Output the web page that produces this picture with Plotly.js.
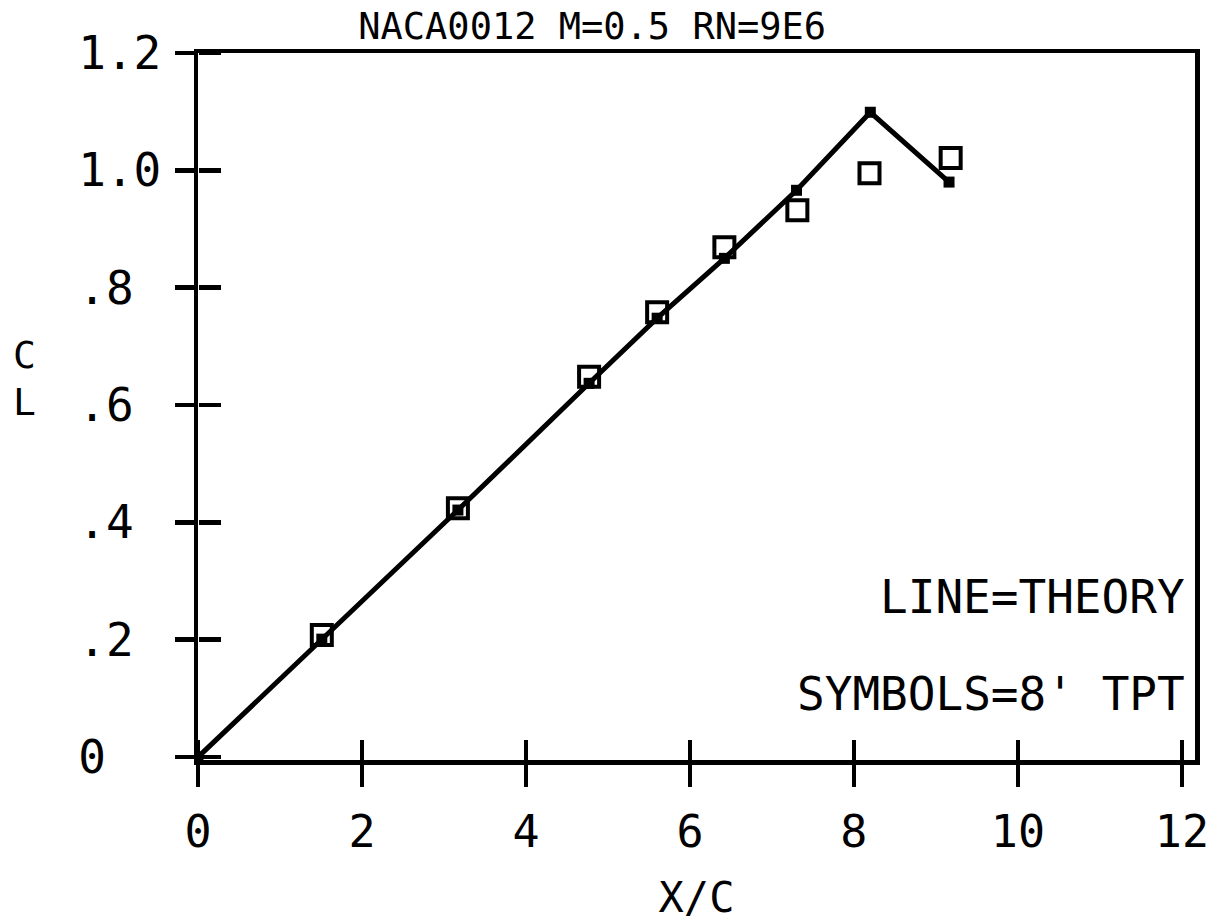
<!DOCTYPE html>
<html>
<head>
<meta charset="utf-8">
<script src="https://cdn.plot.ly/plotly-3.0.1.min.js"></script>
<style>html,body{margin:0;padding:0;background:#fff;}</style>
</head>
<body>
<div id="chart" style="width:1211px;height:922px;"></div>
<script>
// Experimental data (8' TPT) — open squares
const alphaExp = [1.51, 3.17, 4.77, 5.60, 6.42, 7.31, 8.19, 9.18];
const clExp    = [0.208, 0.424, 0.648, 0.758, 0.869, 0.932, 0.995, 1.021];
// Theory — line with small filled squares
const alphaTheory = [0, 1.51, 3.17, 4.77, 5.60, 6.42, 7.30, 8.20, 9.16];
const clTheory    = [0, 0.201, 0.421, 0.637, 0.748, 0.850, 0.966, 1.099, 0.980];
// Ticks
const xTickVals = [0, 2, 4, 6, 8, 10, 12];
const xTickText = ['0', '2', '4', '6', '8', '10', '12'];
const yTickVals = [0, 0.2, 0.4, 0.6, 0.8, 1.0, 1.2];
const yTickText = ['0\u00A0\u00A0', '.2\u00A0', '.4\u00A0', '.6\u00A0', '.8\u00A0', '1.0', '1.2'];

const FONT = '"DejaVu Sans Mono", "Liberation Mono", monospace';

const traces = [
  {
    x: alphaTheory, y: clTheory, type: 'scatter', mode: 'lines+markers',
    line: {color: '#000', width: 5},
    marker: {symbol: 'square', size: 11, color: '#000'},
    hoverinfo: 'skip', showlegend: false
  },
  {
    x: alphaExp, y: clExp, type: 'scatter', mode: 'markers',
    marker: {symbol: 'square-open', size: 20, color: '#000', line: {width: 4, color: '#000'}},
    hoverinfo: 'skip', showlegend: false
  },
  { x: [], y: [], xaxis: 'x2', yaxis: 'y2', type: 'scatter', mode: 'markers', showlegend: false, hoverinfo: 'skip' }
];

const layout = {
  width: 1211, height: 922,
  margin: {l: 198, r: 16, t: 53, b: 162},
  paper_bgcolor: '#fff', plot_bgcolor: '#fff',
  font: {family: FONT, color: '#000', size: 40},
  showlegend: false,
  title: {
    text: 'NACA0012 M=0.5 RN=9E6',
    font: {family: FONT, size: 37, color: '#000'},
    xref: 'container', x: 0.489, xanchor: 'center',
    yref: 'container', y: 0.972, yanchor: 'middle'
  },
  xaxis: {
    range: [0, 12.16], tickmode: 'array', tickvals: xTickVals, ticktext: xTickText,
    ticks: 'outside', ticklen: 22, tickwidth: 4.5, tickcolor: '#000',
    showline: true, linewidth: 4.5, linecolor: '#000', mirror: true,
    showgrid: false, zeroline: false,
    tickfont: {family: FONT, size: 45, color: '#000'},
    ticklabelstandoff: 6,
    title: {text: 'X/C', font: {family: FONT, size: 42, color: '#000'}, standoff: 30}
  },
  yaxis: {
    range: [-0.005, 1.2], tickmode: 'array', tickvals: yTickVals, ticktext: yTickText,
    ticks: 'outside', ticklen: 19, tickwidth: 4.5, tickcolor: '#000',
    showline: true, linewidth: 4.5, linecolor: '#000', mirror: true,
    showgrid: false, zeroline: false,
    tickfont: {family: FONT, size: 46, color: '#000'},
    ticklabelstandoff: 4
  },
  xaxis2: {
    overlaying: 'x', anchor: 'free', position: 0, side: 'top',
    range: [0, 12.16], tickmode: 'array', tickvals: xTickVals,
    ticks: 'outside', ticklen: 20, tickwidth: 4.5, tickcolor: '#000',
    showticklabels: false, showline: false, showgrid: false, zeroline: false
  },
  yaxis2: {
    overlaying: 'y', anchor: 'free', position: 0, side: 'right',
    range: [-0.005, 1.2], tickmode: 'array', tickvals: yTickVals,
    ticks: 'outside', ticklen: 22, tickwidth: 4.5, tickcolor: '#000',
    showticklabels: false, showline: false, showgrid: false, zeroline: false
  },
  annotations: [
    {text: 'C', xref: 'paper', yref: 'paper', x: -0.1745, y: 0.573, xanchor: 'center', yanchor: 'middle',
     showarrow: false, font: {family: FONT, size: 38, color: '#000'}},
    {text: 'L', xref: 'paper', yref: 'paper', x: -0.1745, y: 0.506, xanchor: 'center', yanchor: 'middle',
     showarrow: false, font: {family: FONT, size: 38, color: '#000'}},
    {text: 'LINE=THEORY', xref: 'paper', yref: 'paper', x: 0.992, y: 0.231, xanchor: 'right', yanchor: 'middle',
     showarrow: false, font: {family: FONT, size: 46, color: '#000'}},
    {text: "SYMBOLS=8' TPT", xref: 'paper', yref: 'paper', x: 0.992, y: 0.093, xanchor: 'right', yanchor: 'middle',
     showarrow: false, font: {family: FONT, size: 46, color: '#000'}}
  ]
};

Plotly.newPlot('chart', traces, layout, {displayModeBar: false, staticPlot: true});
</script>
</body>
</html>
